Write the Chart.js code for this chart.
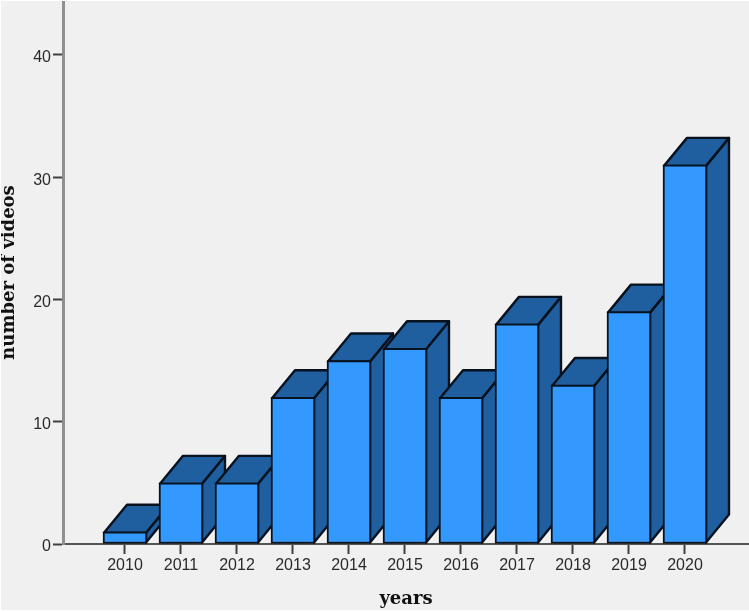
<!DOCTYPE html>
<html>
<head>
<meta charset="utf-8">
<style>
html,body{margin:0;padding:0;background:#fff;overflow:hidden}
#wrap{position:absolute;left:1px;top:1px;width:748px;height:609px}
</style>
<script src="https://cdn.jsdelivr.net/npm/chart.js@4"></script>
</head>
<body>
<div id="wrap"><canvas id="c" width="748" height="609"></canvas></div>
<script>
const years = [2010, 2011, 2012, 2013, 2014, 2015, 2016, 2017, 2018, 2019, 2020];
const videos = [1, 5, 5, 12, 15, 16, 12, 18, 13, 19, 31];
const yTickValues = [0, 10, 20, 30, 40];
const xAxisTitle = 'years';
const yAxisTitle = 'number of videos';

const frontColor = '#3399ff';
const sideColor = '#1f5f9f';
const edgeColor = '#08121e';
const DEPTH_X = 23, DEPTH_Y = 28;

const faces3d = {
  id: 'faces3d',
  beforeDatasetsDraw(chart) {
    const ctx = chart.ctx;
    ctx.save();
    ctx.fillStyle = sideColor;
    ctx.strokeStyle = edgeColor;
    ctx.lineWidth = 2.4;
    ctx.lineJoin = 'round';
    chart.getDatasetMeta(0).data.forEach(bar => {
      const w = bar.width / 2 - 1;
      const l = bar.x - w, r = bar.x + w, t = bar.y + 1, b = bar.base - 1;
      ctx.beginPath();
      ctx.moveTo(r, b);
      ctx.lineTo(r + DEPTH_X, b - DEPTH_Y);
      ctx.lineTo(r + DEPTH_X, t - DEPTH_Y);
      ctx.lineTo(r, t);
      ctx.closePath();
      ctx.fill();
      ctx.stroke();
      ctx.beginPath();
      ctx.moveTo(l, t);
      ctx.lineTo(l + DEPTH_X, t - DEPTH_Y);
      ctx.lineTo(r + DEPTH_X, t - DEPTH_Y);
      ctx.lineTo(r, t);
      ctx.closePath();
      ctx.fill();
      ctx.stroke();
    });
    ctx.restore();
  }
};

function noPadding(s) {
  s.paddingTop = 0; s.paddingBottom = 0; s.paddingLeft = 0; s.paddingRight = 0;
}

new Chart(document.getElementById('c'), {
  type: 'bar',
  data: {
    datasets: [{
      data: years.map((y, i) => ({ x: y, y: videos[i] })),
      backgroundColor: frontColor,
      borderColor: edgeColor,
      borderWidth: 2,
      borderSkipped: false,
      barThickness: 44
    }]
  },
  plugins: [faces3d, {
    id: 'bg',
    beforeDraw(chart) {
      const ctx = chart.ctx;
      ctx.save();
      ctx.fillStyle = '#f0f0f0';
      ctx.fillRect(0, 0, chart.width, chart.height);
      ctx.restore();
      chart.scales.y.getLabelItems(chart.chartArea).forEach(item => { item.textOffset += 3; });
    }
  }],
  options: {
    responsive: false,
    animation: false,
    layout: { padding: 0 },
    plugins: { legend: { display: false }, tooltip: { enabled: false } },
    scales: {
      x: {
        type: 'linear',
        offset: false,
        min: 2008.893,
        max: 2021.143,
        afterBuildTicks(s) { s.ticks = years.map(v => ({ value: v })); },
        afterFit(s) { s.height = 66; noPadding(s); },
        ticks: {
          autoSkip: false,
          maxRotation: 0,
          padding: 2,
          color: '#2a2a2a',
          font: { family: 'Liberation Sans', size: 16 },
          callback: v => String(v)
        },
        grid: { offset: false, drawOnChartArea: false, tickLength: 10, tickColor: '#404040', tickWidth: 2 },
        border: { color: '#555555', width: 2 },
        title: {
          display: true,
          text: xAxisTitle,
          color: '#111',
          font: { family: 'DejaVu Serif', size: 18, weight: 'bold' },
          padding: { top: 11, bottom: 0 }
        }
      },
      y: {
        min: 0,
        max: 44.4,
        afterBuildTicks(s) { s.ticks = yTickValues.map(v => ({ value: v })); },
        afterFit(s) { s.width = 62; noPadding(s); },
        ticks: {
          padding: 2,
          color: '#2a2a2a',
          font: { family: 'Liberation Sans', size: 16 }
        },
        grid: { drawOnChartArea: false, tickLength: 10, tickColor: '#404040', tickWidth: 2 },
        border: { color: '#8f8f8f', width: 3 },
        title: {
          display: true,
          text: yAxisTitle,
          color: '#111',
          font: { family: 'DejaVu Serif', size: 18, weight: 'bold' },
          padding: { top: -2, bottom: 0 }
        }
      }
    }
  }
});
</script>
</body>
</html>
